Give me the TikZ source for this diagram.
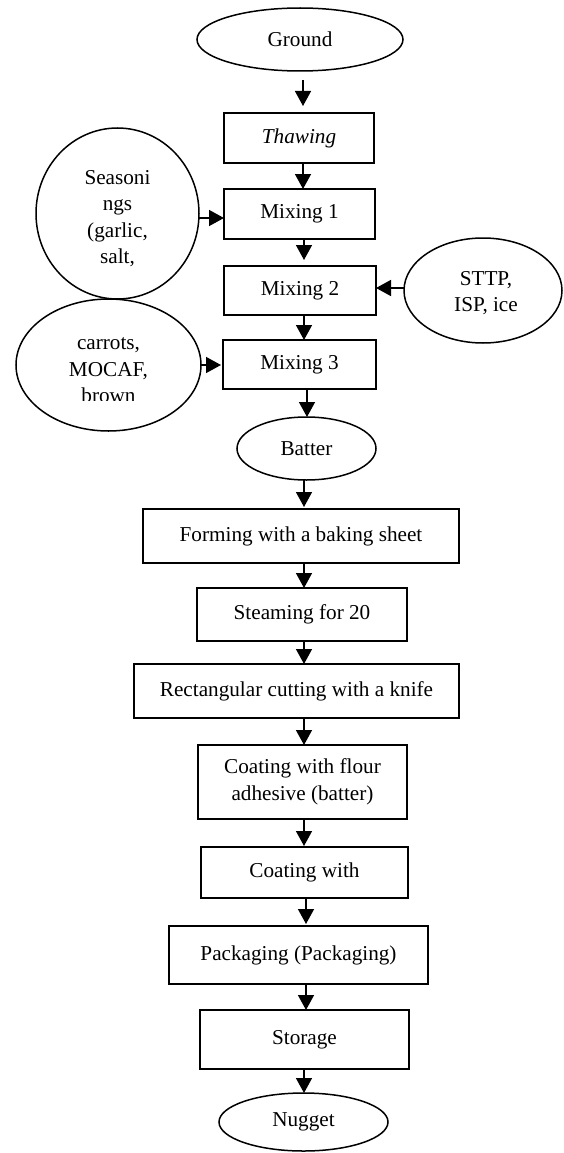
\documentclass[tikz,border=0pt]{standalone}
\usepackage{fontspec}
\setmainfont{Liberation Serif}
\usetikzlibrary{shapes.geometric,arrows.meta,calc}
\begin{document}
\begin{tikzpicture}[x=1pt,y=-1pt,
  every node/.style={font=\fontsize{21.2}{26.5}\selectfont, inner sep=0pt, outer sep=0pt},
  box/.style={draw, line width=1.5pt, rectangle, align=center},
  ell/.style={draw, line width=1.5pt, ellipse, align=center},
  txt/.style={align=center},
  arr/.style={line width=1.5pt, -{Triangle[length=15pt,width=16pt]}}]
\useasboundingbox (0,0) rectangle (564,1153);

% main column
\node[ell, minimum width=206, minimum height=63] (ground) at (300,39.5) {Ground};
\node[box, minimum width=150, minimum height=50] (thawing) at (299,138) {\textit{Thawing}};
\node[box, minimum width=151, minimum height=50] (mix1) at (299.5,214) {Mixing 1};
\node[box, minimum width=152, minimum height=49] (mix2) at (300,290.5) {Mixing 2};
\node[box, minimum width=153, minimum height=49] (mix3) at (299.5,364.5) {Mixing 3};
\node[ell, minimum width=139, minimum height=63] (batter) at (306.5,448.5) {Batter};
\node[box, minimum width=316, minimum height=54] (forming) at (301,536) {Forming with a baking sheet};
\node[box, minimum width=210, minimum height=53] (steaming) at (302,614.5) {Steaming for 20};
\node[box, minimum width=325, minimum height=54] (cutting) at (296.5,691) {Rectangular cutting with a knife};
\node[box, minimum width=209, minimum height=74] (coatflour) at (302.5,782) {Coating with flour\\adhesive (batter)};
\node[box, minimum width=207, minimum height=51] (coatwith) at (304.5,872.5) {Coating with};
\node[box, minimum width=259, minimum height=58] (packaging) at (298.5,955) {Packaging (Packaging)};
\node[box, minimum width=209, minimum height=59] (storage) at (304.5,1039.5) {Storage};
\node[ell, minimum width=169, minimum height=58] (nugget) at (303.5,1122) {Nugget};

% side inputs
\node[ell, minimum width=163, minimum height=171] (seas) at (117.5,213.5) {};
\node[txt] (seastext) at (117.5,218.5) {Seasoni\\ngs\\(garlic,\\salt,};
\node[ell, minimum width=158, minimum height=105] (sttp) at (483,290.5) {};
\node[txt] (sttptext) at (486,293) {STTP,\\ISP, ice};
\node[ell, minimum width=185, minimum height=132] (carrots) at (108.5,365) {};
\begin{scope}
  \clip (0,300) rectangle (220,400);
  \node[txt] (carrotstext) at (108.5,370.4) {carrots,\\MOCAF,\\brown};
\end{scope}

% arrow columns
\coordinate (c303) at (303,0);
\coordinate (c304) at (304,0);
\coordinate (c306) at (306,0);
\coordinate (c307) at (307,0);
\coordinate (r1) at (0,218);
\coordinate (r2) at (0,288);
\coordinate (r3) at (0,365);

\draw[arr, shorten <=9pt, shorten >=7pt] (ground.south -| c303) -- (thawing.north -| c303);
\draw[arr] (thawing.south -| c303) -- (mix1.north -| c303);
\draw[arr, shorten >=6pt] (mix1.south -| c304) -- (mix2.north -| c304);
\draw[arr] (mix2.south -| c304) -- (mix3.north -| c304);
\draw[arr] (mix3.south -| c307) -- (batter.north -| c307);
\draw[arr, shorten >=2pt] (batter.south -| c304) -- (forming.north -| c304);
\draw[arr] (forming.south -| c304) -- (steaming.north -| c304);
\draw[arr] (steaming.south -| c304) -- (cutting.north -| c304);
\draw[arr] (cutting.south -| c304) -- (coatflour.north -| c304);
\draw[arr, shorten >=1pt] (coatflour.south -| c304) -- (coatwith.north -| c304);
\draw[arr, shorten >=2pt] (coatwith.south -| c306) -- (packaging.north -| c306);
\draw[arr] (packaging.south -| c306) -- (storage.north -| c306);
\draw[arr] (storage.south -| c304) -- (nugget.north -| c304);

\draw[arr] (seas.east |- r1) -- (mix1.west |- r1);
\draw[arr] (sttp.west |- r2) -- (mix2.east |- r2);
\draw[arr, shorten >=2pt] (carrots.east |- r3) -- (mix3.west |- r3);
\end{tikzpicture}
\end{document}
